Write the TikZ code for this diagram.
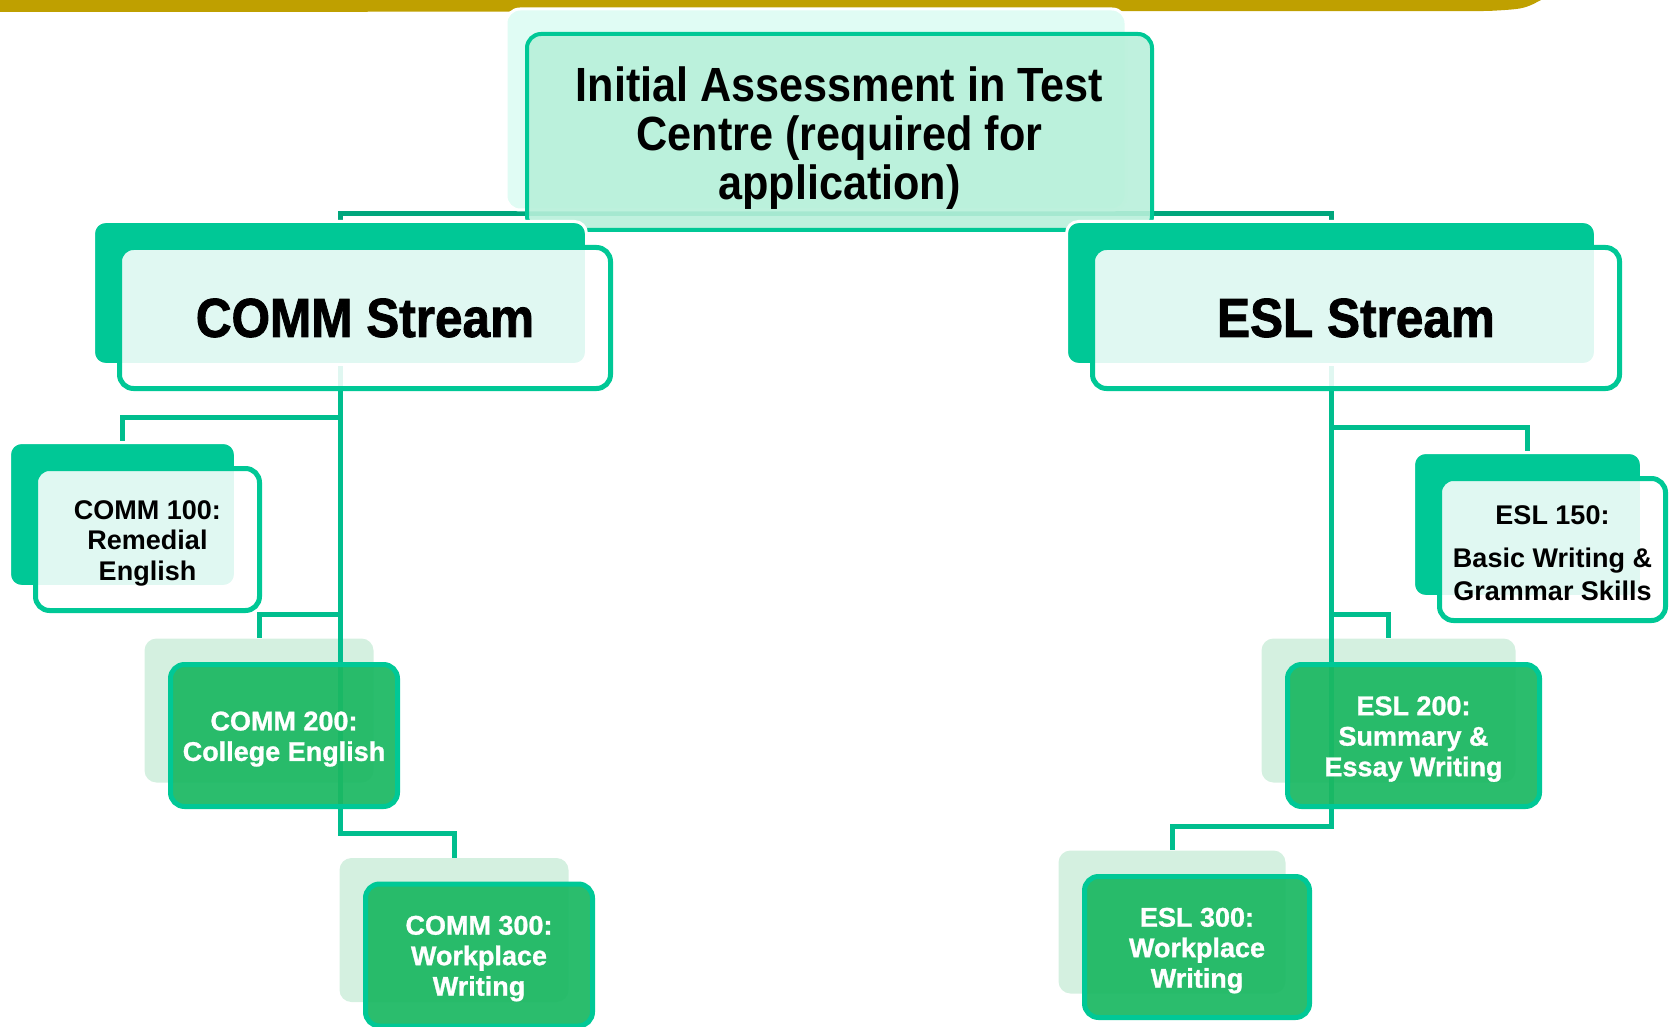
\documentclass[tikz,border=0pt]{standalone}
\usepackage{fontspec}
\setmainfont{Liberation Sans}
\newfontfamily\headfont[FakeStretch=0.9]{Liberation Sans}
\newfontfamily\heavyfont[FakeStretch=0.9,FakeBold=1.5]{Liberation Sans}
\newfontfamily\leaffont[FakeBold=1]{Liberation Sans}
\usetikzlibrary{fit}
\pgfdeclarelayer{titleline}
\pgfdeclarelayer{title}
\pgfdeclarelayer{background}
\pgfdeclarelayer{lines}
\pgfsetlayers{titleline,title,background,lines,main}
\definecolor{gold}{RGB}{191,160,0}
\definecolor{mint}{RGB}{0,200,150}
\definecolor{darkmint}{RGB}{0,166,124}
\definecolor{linemint}{RGB}{0,190,142}
\definecolor{leaf}{RGB}{27,184,98}
\definecolor{paleleaf}{RGB}{212,240,224}
\definecolor{titlefill}{RGB}{184,240,218}
\definecolor{titleback}{RGB}{224,252,244}

\begin{document}
\begin{tikzpicture}[x=1pt,y=-1pt,
  front/.style={draw=mint,line width=5pt,rounded corners=14pt,align=center,inner sep=0pt,text opacity=1},
  palebox/.style={front,fill=white,fill opacity=0.88,text=black},
  leafbox/.style={front,fill=leaf,fill opacity=0.93,text=white,font=\leaffont\bfseries\fontsize{27}{30.5}\selectfont},
  solidback/.style={fill=mint,draw=white,line width=3pt,rounded corners=12pt,inner sep=0pt},
  paleback/.style={fill=paleleaf,rounded corners=12pt,inner sep=0pt},
  link/.style={draw=linemint,line width=5pt},
  heading/.style={font=\heavyfont\bfseries\fontsize{55}{60}\selectfont},
  course/.style={font=\bfseries\fontsize{27}{30.5}\selectfont}]
\useasboundingbox (0,0) rectangle (1671,1027);

\begin{pgfonlayer}{titleline}
 \fill[gold] (0,0) -- (1541,0) .. controls (1524,9) .. (1488,11) -- (0,12) -- cycle;
\end{pgfonlayer}

\begin{pgfonlayer}{title}
 \node[fill=titleback,draw=white,line width=3pt,rounded corners=14pt,minimum width=620,minimum height=201] (title-b) at (816,109.5) {};
 \node[front,line width=4pt,fill=titlefill,fill opacity=0.9,text=black,minimum width=625,minimum height=196,
       font=\headfont\bfseries\fontsize{48}{49}\selectfont] (title) at (839.5,132)
       {\rule{0pt}{46pt}Initial Assessment in Test\\Centre (required for\\application)};
\end{pgfonlayer}

 \node[palebox,heading,minimum width=491,minimum height=141] (comm) at (365,318) {COMM Stream};
 \node[palebox,heading,minimum width=527,minimum height=141] (esl)  at (1356,318) {ESL Stream};

 \node[palebox,course,minimum width=224,minimum height=142] (c100) at (147.5,539.5) {\rule{0pt}{26pt}COMM 100:\\Remedial\\English};
 \node[course,leafbox,minimum width=227,minimum height=142] (c200) at (284,735.5)   {\rule{0pt}{26pt}COMM 200:\\College English};
 \node[course,leafbox,minimum width=227,minimum height=142] (c300) at (479,955)     {\rule{0pt}{26pt}COMM 300:\\Workplace\\Writing};

 \node[palebox,course,minimum width=226,minimum height=142] (e150) at (1552.5,549.5) {\rule{0pt}{26pt}ESL 150:\\[13pt]Basic Writing \&\\[2pt]Grammar Skills};
 \node[course,leafbox,minimum width=252,minimum height=142] (e200) at (1413.5,735.5) {\rule{0pt}{26pt}ESL 200:\\Summary \&\\Essay Writing};
 \node[course,leafbox,minimum width=225,minimum height=141] (e300) at (1197,947)     {\rule{0pt}{26pt}ESL 300:\\Workplace\\Writing};

\begin{pgfonlayer}{background}
 \foreach \n/\s in {comm/solidback,esl/solidback,c100/solidback,e150/solidback,c200/paleback,c300/paleback,e200/paleback,e300/paleback}
   \node[\s,fit={([shift={(-23.5,-23.5)}]\n.north west) ([shift={(-26.5,-26.5)}]\n.south east)}] (\n-b) {};
\end{pgfonlayer}

\begin{pgfonlayer}{titleline}
 \draw[link,draw=darkmint] (comm-b.north) |- ([yshift=-2]title-b.south) -| (esl-b.north);
\end{pgfonlayer}

\begin{pgfonlayer}{lines}
 \foreach \p/\c in {comm/c100,comm/c200,comm/c300,esl/e150,esl/e200,esl/e300}
   \draw[link] (\p-b.south) |- ([yshift=24]\c-b.north) -- (\c-b.north);
\end{pgfonlayer}
\end{tikzpicture}
\end{document}
